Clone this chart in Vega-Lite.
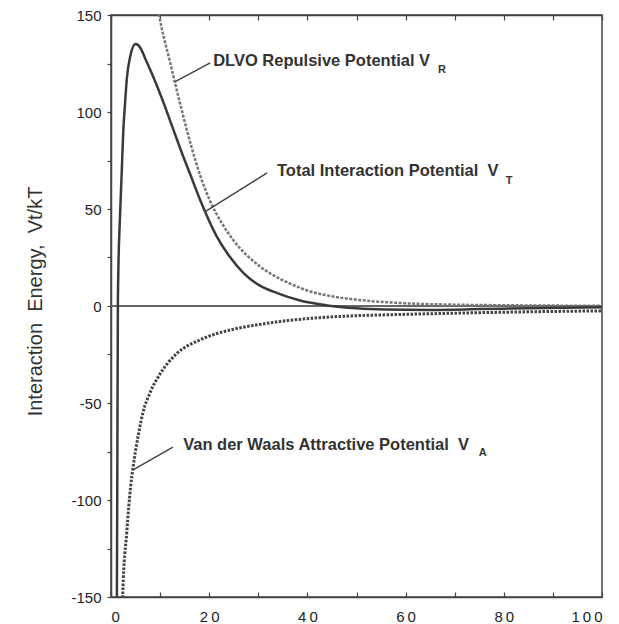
{
  "$schema": "https://vega.github.io/schema/vega-lite/v6.json",
  "width": 491,
  "height": 582,
  "autosize": {"type": "none"},
  "padding": {"left": 111, "top": 15, "right": 17, "bottom": 27},
  "background": "white",
  "config": {
    "view": {"stroke": "#444", "strokeWidth": 1.5},
    "font": "Liberation Sans"
  },
  "datasets": {
    "curves": [
      {"series": "VT", "x": 1.15, "y": -170},
      {"series": "VT", "x": 1.2, "y": -150},
      {"series": "VT", "x": 1.3, "y": -75},
      {"series": "VT", "x": 1.4, "y": 0},
      {"series": "VT", "x": 1.5, "y": 18.5},
      {"series": "VT", "x": 1.8, "y": 44},
      {"series": "VT", "x": 2.2, "y": 70},
      {"series": "VT", "x": 2.5, "y": 90},
      {"series": "VT", "x": 2.85, "y": 104},
      {"series": "VT", "x": 3.2, "y": 116.5},
      {"series": "VT", "x": 3.9, "y": 128.5},
      {"series": "VT", "x": 5.0, "y": 135},
      {"series": "VT", "x": 6.0, "y": 133},
      {"series": "VT", "x": 6.9, "y": 128},
      {"series": "VT", "x": 8.3, "y": 120},
      {"series": "VT", "x": 10.3, "y": 107.5},
      {"series": "VT", "x": 12.4, "y": 93},
      {"series": "VT", "x": 14.5, "y": 78.5},
      {"series": "VT", "x": 16.5, "y": 65.5},
      {"series": "VT", "x": 18.1, "y": 55},
      {"series": "VT", "x": 21.5, "y": 36},
      {"series": "VT", "x": 24, "y": 26},
      {"series": "VT", "x": 27, "y": 17},
      {"series": "VT", "x": 30, "y": 11},
      {"series": "VT", "x": 34, "y": 6.5},
      {"series": "VT", "x": 38.5, "y": 2.8},
      {"series": "VT", "x": 44, "y": 0.3},
      {"series": "VT", "x": 50, "y": -1.2},
      {"series": "VT", "x": 56, "y": -1.8},
      {"series": "VT", "x": 65, "y": -2},
      {"series": "VT", "x": 75, "y": -1.6},
      {"series": "VT", "x": 85, "y": -1.1},
      {"series": "VT", "x": 100, "y": -0.6},
      {"series": "VR", "x": 9.0, "y": 162},
      {"series": "VR", "x": 9.8, "y": 150},
      {"series": "VR", "x": 12, "y": 126},
      {"series": "VR", "x": 14.4, "y": 101},
      {"series": "VR", "x": 16.5, "y": 81},
      {"series": "VR", "x": 18.2, "y": 67},
      {"series": "VR", "x": 20.2, "y": 54},
      {"series": "VR", "x": 22.5, "y": 43},
      {"series": "VR", "x": 24.9, "y": 34},
      {"series": "VR", "x": 30.3, "y": 20.5},
      {"series": "VR", "x": 34.4, "y": 14},
      {"series": "VR", "x": 36.5, "y": 11.5},
      {"series": "VR", "x": 40, "y": 8},
      {"series": "VR", "x": 45, "y": 5},
      {"series": "VR", "x": 51, "y": 3},
      {"series": "VR", "x": 60, "y": 1.4},
      {"series": "VR", "x": 70, "y": 0.7},
      {"series": "VR", "x": 85, "y": 0.3},
      {"series": "VR", "x": 100, "y": 0.1},
      {"series": "VA", "x": 2.25, "y": -165},
      {"series": "VA", "x": 2.4, "y": -148},
      {"series": "VA", "x": 3.2, "y": -117},
      {"series": "VA", "x": 4.0, "y": -93},
      {"series": "VA", "x": 4.5, "y": -83},
      {"series": "VA", "x": 5.6, "y": -66},
      {"series": "VA", "x": 6.6, "y": -54},
      {"series": "VA", "x": 7.9, "y": -45},
      {"series": "VA", "x": 10, "y": -35},
      {"series": "VA", "x": 13.4, "y": -24.5},
      {"series": "VA", "x": 18.1, "y": -17.5},
      {"series": "VA", "x": 24.9, "y": -12},
      {"series": "VA", "x": 30.3, "y": -9.5},
      {"series": "VA", "x": 36, "y": -7.5},
      {"series": "VA", "x": 42.6, "y": -6},
      {"series": "VA", "x": 50, "y": -5},
      {"series": "VA", "x": 60, "y": -4.3},
      {"series": "VA", "x": 72, "y": -3.6},
      {"series": "VA", "x": 85, "y": -3},
      {"series": "VA", "x": 100, "y": -2.5}
    ],
    "zero": [{"x": 0, "y": 0}, {"x": 100, "y": 0}],
    "notes": [
      {"kind": "main", "x": 20.8, "y": 126.3, "label": "DLVO Repulsive Potential V"},
      {"kind": "sub", "x": 66.6, "y": 121.6, "label": "R"},
      {"kind": "main", "x": 33.8, "y": 69.6, "label": "Total Interaction Potential\u00a0\u00a0V"},
      {"kind": "sub", "x": 80.4, "y": 64.4, "label": "T"},
      {"kind": "main", "x": 14.7, "y": -71.6, "label": "Van der Waals Attractive Potential\u00a0\u00a0V"},
      {"kind": "sub", "x": 74.9, "y": -75.8, "label": "A"}
    ],
    "leaders": [
      {"x": 13.0, "y": 115.5, "x2": 20.2, "y2": 125.3},
      {"x": 19.1, "y": 48.5, "x2": 31.8, "y2": 68.6},
      {"x": 4.5, "y": -84.5, "x2": 12.6, "y2": -72.7}
    ]
  },
  "encoding": {
    "x": {"field": "x", "type": "quantitative", "scale": {"domain": [0, 100], "nice": false, "zero": false}, "axis": null},
    "y": {
      "field": "y",
      "type": "quantitative",
      "scale": {"domain": [-150, 150], "nice": false, "zero": false},
      "axis": {
        "values": [-150, -125, -100, -75, -50, -25, 0, 25, 50, 75, 100, 125, 150],
        "labelExpr": "datum.value % 50 == 0 ? toString(datum.value) : ''",
        "grid": false,
        "domainColor": "#444",
        "domainWidth": 1.5,
        "tickColor": "#444",
        "tickWidth": 1.2,
        "tickSize": 4,
        "labelFontSize": 15,
        "labelColor": "#222",
        "labelPadding": 6,
        "title": "Interaction\u00a0\u00a0Energy,\u00a0\u00a0Vt/kT",
        "titleFontSize": 20,
        "titleFontWeight": "normal",
        "titleColor": "#333",
        "titleX": -76,
        "titleY": 286,
        "titleAngle": -90,
        "titleAlign": "center",
        "titleBaseline": "middle"
      }
    }
  },
  "layer": [
    {
      "data": {"name": "zero"},
      "mark": {"type": "line", "stroke": "#666", "strokeWidth": 2},
      "encoding": {
        "x": {
          "field": "x", "type": "quantitative", "scale": {"domain": [0, 100], "nice": false, "zero": false},
          "axis": {"orient": "top", "values": [0, 10, 20, 30, 40, 50, 60, 70, 80, 90, 100], "labels": false, "title": null, "grid": false, "tickSize": -5, "tickColor": "#444", "tickWidth": 1.2, "domainColor": "#444", "domainWidth": 1.5}
        }
      }
    },
    {
      "data": {"name": "curves"},
      "transform": [{"filter": "datum.series == 'VR'"}],
      "mark": {"type": "line", "clip": true, "interpolate": "monotone", "stroke": "#777", "strokeWidth": 2.5, "strokeDash": [3, 1.5]}
    },
    {
      "data": {"name": "curves"},
      "transform": [{"filter": "datum.series == 'VA'"}],
      "mark": {"type": "line", "clip": true, "interpolate": "monotone", "stroke": "#444", "strokeWidth": 3, "strokeDash": [2.5, 1.5]}
    },
    {
      "data": {"name": "curves"},
      "transform": [{"filter": "datum.series == 'VT'"}],
      "mark": {"type": "line", "clip": true, "interpolate": "monotone", "stroke": "#3a3a3a", "strokeWidth": 2.5},
      "encoding": {
        "x": {
          "field": "x", "type": "quantitative", "scale": {"domain": [0, 100], "nice": false, "zero": false},
          "axis": {"orient": "bottom", "values": [0, 10, 20, 30, 40, 50, 60, 70, 80, 90, 100],
            "labelExpr": "datum.value % 20 == 0 ? join(split(toString(datum.value), ''), '\u2009') : ''",
            "title": null, "grid": false, "tickSize": -5, "tickColor": "#444", "tickWidth": 1.2, "domainColor": "#444", "domainWidth": 1.5,
            "labelFontSize": 15, "labelColor": "#222", "labelPadding": 17, "labelBaseline": "top"}
        }
      }
    },
    {
      "data": {"name": "leaders"},
      "mark": {"type": "rule", "stroke": "#444", "strokeWidth": 1.5},
      "encoding": {
        "x2": {"field": "x2"},
        "y2": {"field": "y2"}
      }
    },
    {
      "data": {"name": "notes"},
      "transform": [{"filter": "datum.kind == 'main'"}],
      "mark": {"type": "text", "align": "left", "baseline": "middle", "fontSize": 16.5, "fontWeight": "bold", "fill": "#333"},
      "encoding": {"text": {"field": "label"}}
    },
    {
      "data": {"name": "notes"},
      "transform": [{"filter": "datum.kind == 'sub'"}],
      "mark": {"type": "text", "align": "left", "baseline": "middle", "fontSize": 11, "fontWeight": "bold", "fill": "#333"},
      "encoding": {"text": {"field": "label"}}
    }
  ],
  "resolve": {"axis": {"x": "independent"}}
}
